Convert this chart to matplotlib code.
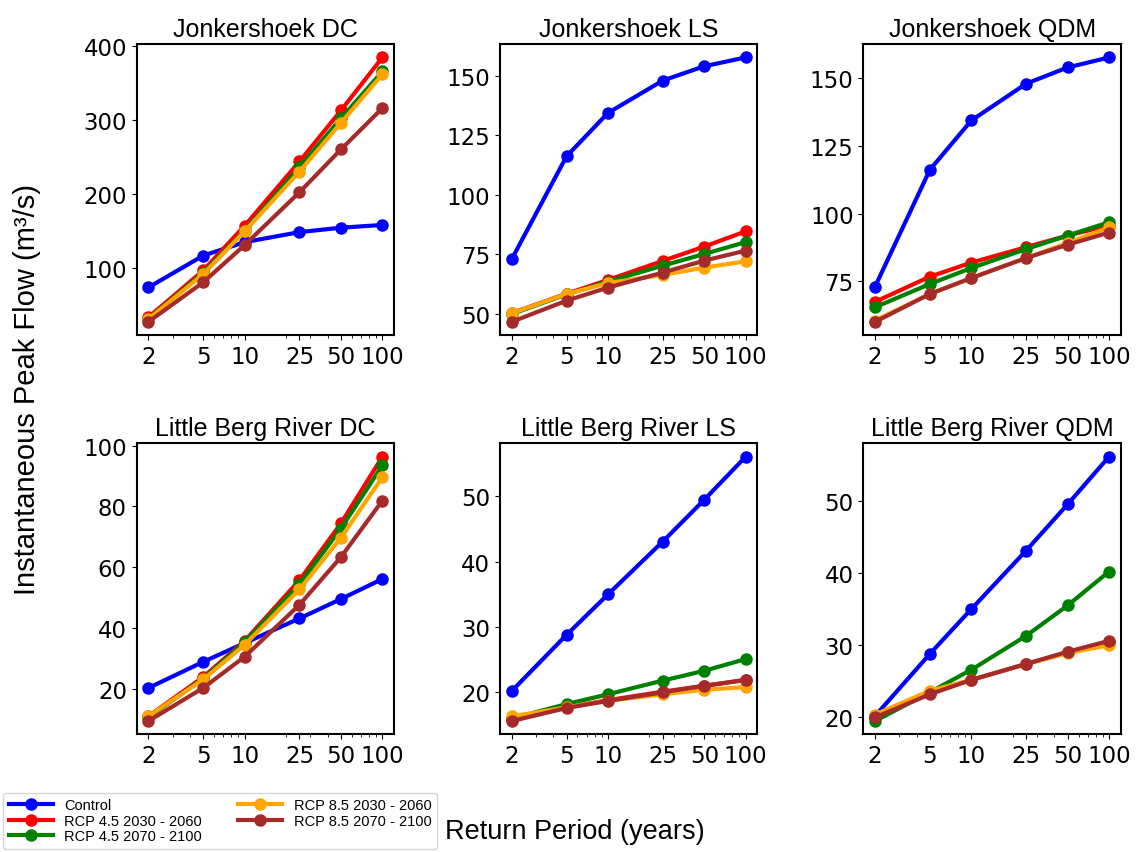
import matplotlib.pyplot as plt
from matplotlib.ticker import FixedLocator, ScalarFormatter, NullFormatter

periods = [2, 5, 10, 25, 50, 100]
labels = ['Control', 'RCP 4.5 2030 - 2060', 'RCP 4.5 2070 - 2100',
          'RCP 8.5 2030 - 2060', 'RCP 8.5 2070 - 2100']
colors = ['blue', 'red', 'green', 'orange', 'brown']

titles = ['Jonkershoek DC', 'Jonkershoek LS', 'Jonkershoek QDM',
          'Little Berg River DC', 'Little Berg River LS', 'Little Berg River QDM']

# peak flow per scenario, order matches labels
jk_control = [73.0, 116.2, 134.4, 148.0, 154.0, 157.7]
jk_dc = [jk_control,
         [32.6, 96.0, 156.6, 243.7, 312.8, 384.7],
         [30.5, 93.0, 150.0, 236.0, 302.0, 365.8],
         [30.0, 91.0, 149.0, 230.0, 296.0, 361.8],
         [26.4, 80.0, 130.5, 202.0, 260.0, 316.0]]
jk_ls = [jk_control,
         [50.4, 58.5, 64.3, 72.3, 78.3, 84.7],
         [50.0, 58.2, 63.6, 70.3, 75.2, 80.2],
         [50.3, 58.4, 63.0, 66.4, 69.5, 72.1],
         [46.7, 55.6, 61.1, 67.4, 72.4, 76.6]]
jk_qdm = [jk_control,
          [67.4, 76.7, 81.9, 87.6, 91.9, 95.6],
          [65.4, 74.0, 79.9, 86.9, 91.9, 96.8],
          [60.5, 70.3, 76.2, 83.6, 89.1, 94.9],
          [60.0, 70.3, 76.2, 83.6, 88.5, 93.0]]

lb_control = [20.2, 28.8, 35.0, 43.1, 49.5, 56.1]
lb_dc = [lb_control,
         [10.9, 23.8, 35.7, 55.7, 74.4, 96.4],
         [10.5, 23.3, 35.3, 54.4, 72.7, 93.5],
         [10.9, 23.0, 34.4, 52.7, 69.7, 89.6],
         [9.3, 20.2, 30.5, 47.6, 63.3, 81.9]]
lb_ls = [lb_control,
         [15.8, 17.7, 18.8, 20.1, 21.0, 21.9],
         [16.0, 18.2, 19.7, 21.8, 23.3, 25.1],
         [16.3, 17.7, 18.7, 19.7, 20.4, 20.8],
         [15.6, 17.6, 18.7, 20.0, 21.0, 21.9]]
lb_qdm = [lb_control,
          [20.1, 23.4, 25.2, 27.4, 29.0, 30.4],
          [19.5, 23.5, 26.6, 31.3, 35.5, 40.2],
          [20.4, 23.7, 25.2, 27.4, 28.9, 30.0],
          [20.0, 23.2, 25.2, 27.4, 29.1, 30.6]]

panels = [jk_dc, jk_ls, jk_qdm, lb_dc, lb_ls, lb_qdm]
yticks = [[100, 200, 300, 400], [50, 75, 100, 125, 150], [75, 100, 125, 150],
          [20, 40, 60, 80, 100], [20, 30, 40, 50], [20, 30, 40, 50]]

arial = ['Liberation Sans', 'DejaVu Sans']

fig = plt.figure(figsize=(11.39, 8.53), dpi=100)
lefts = [0.120, 0.439, 0.758]
bottoms = [0.606, 0.138]
w, h = 0.226, 0.341

for i in range(6):
    ax = fig.add_axes([lefts[i % 3], bottoms[i // 3], w, h])
    for series, c, lab in zip(panels[i], colors, labels):
        ax.plot(periods, series, color=c, marker='o', lw=3, ms=8, label=lab)
    ax.set_xscale('log')
    ax.xaxis.set_major_locator(FixedLocator(periods))
    ax.xaxis.set_major_formatter(ScalarFormatter())
    ax.xaxis.set_minor_formatter(NullFormatter())
    ax.set_yticks(yticks[i])
    ax.tick_params(labelsize=16.5)
    ax.set_title(titles[i], fontsize=18, family=arial)
    for s in ax.spines.values():
        s.set_linewidth(1.5)
    if i == 0:
        handles, labs = ax.get_legend_handles_labels()

fig.legend(handles, labs, loc='lower left', bbox_to_anchor=(0.0, 0.0),
           ncol=2, prop={'family': arial, 'size': 10.5}, handlelength=3,
           borderaxespad=0.2, labelspacing=0.1, columnspacing=2.5)
fig.text(0.505, 0.025, 'Return Period (years)', ha='center', va='center',
         fontsize=19.5, family=arial)
fig.text(0.024, 0.543, 'Instantaneous Peak Flow (m³/s)', ha='center', va='center',
         rotation=90, fontsize=21, family=arial)

fig.savefig('out.png', dpi=100)
